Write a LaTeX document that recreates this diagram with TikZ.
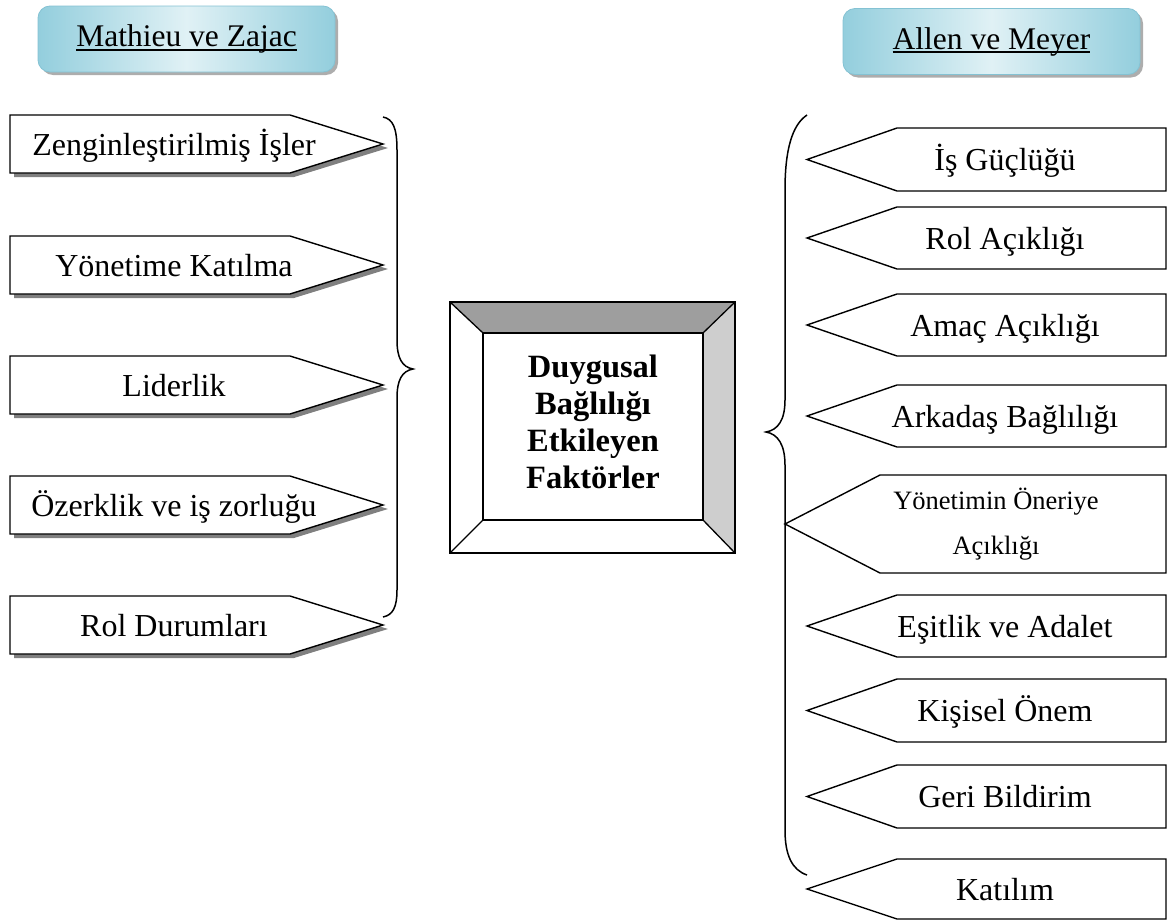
\documentclass[tikz,border=0pt]{standalone}
\usepackage{fontspec}
\setmainfont{Liberation Serif}
\usetikzlibrary{shadows}
\definecolor{hdredge}{HTML}{93CEDD}
\definecolor{hdrmid}{HTML}{E0F1F5}
\definecolor{hdrline}{HTML}{84C2D3}
\definecolor{bevtop}{HTML}{9E9E9E}
\definecolor{bevright}{HTML}{CECECE}
\definecolor{boxshade}{HTML}{808080}
% thick underline for the two header titles
\newcommand\hdrul[1]{\setbox0=\hbox{#1}\rlap{\rule[-4pt]{\wd0}{1.6pt}}\box0}
\begin{document}
\begin{tikzpicture}[x=1pt,y=-1pt,line join=miter,
  edge/.style={draw=black,line width=1.4pt},
  bracepath/.style={draw=black,line width=1.5pt},
  itemtext/.style={font=\fontsize{32}{36}\selectfont,inner sep=0pt,anchor=base},
  header/.style={rounded corners=12pt,minimum width=297pt,minimum height=66pt,
    draw=hdrline,line width=0.8pt,left color=hdredge,right color=hdredge,middle color=hdrmid,
    drop shadow={shadow xshift=3pt,shadow yshift=-3pt,fill=gray!75,opacity=0.85},
    font=\fontsize{31.5}{36}\selectfont},
  ]
\useasboundingbox (0,0) rectangle (1171,921);

% headers
\node[header] (hdrL) at (186.5,39) {\hdrul{Mathieu ve Zajac}};
\node[header] (hdrR) at (991.5,41.5) {\hdrul{Allen ve Meyer}};

% left column: arrow-shaped boxes pointing right, with drop shadow
\foreach \t/\txt/\nm in {115/Zenginleştirilmiş İşler/mzA,236/Yönetime Katılma/mzB,
    356/Liderlik/mzC,476/Özerklik ve iş zorluğu/mzD,596/Rol Durumları/mzE}{
  \fill[boxshade] (14,{\t+4}) -- (294,{\t+4}) -- (388,{\t+33}) -- (294,{\t+62}) -- (14,{\t+62}) -- cycle;
  \path[edge,fill=white] (10,\t) -- (290,\t) -- (383,{\t+29}) -- (290,{\t+58}) -- (10,{\t+58}) -- cycle;
  \node[itemtext] (\nm) at (174,{\t+29+11}) {\txt};
}

% right column: arrow-shaped boxes pointing left
\foreach \t/\b/\txt/\nm in {128/191/İş Güçlüğü/amA,207/269/Rol Açıklığı/amB,
    294/356/Amaç Açıklığı/amC,385/447/Arkadaş Bağlılığı/amD,595/657/Eşitlik ve Adalet/amF,
    679/742/Kişisel Önem/amG,765/828/Geri Bildirim/amH,859/919/Katılım/amI}{
  \path[edge,fill=white] (1166,\t) -- (897,\t) -- (807,{(\t+\b)/2}) -- (897,\b) -- (1166,\b) -- cycle;
  \node[itemtext] (\nm) at (1005,{(\t+\b)/2+11}) {\txt};
}
\path[edge,fill=white] (1166,475) -- (880,475) -- (785,524) -- (880,573) -- (1166,573) -- cycle;
\node[font=\fontsize{26.5}{45}\selectfont,inner sep=0pt,align=center] (amE) at (996,524)
  {Yönetimin Öneriye\\Açıklığı};

% central bevelled frame
\fill[bevtop] (450,302) -- (735,302) -- (703,333) -- (483,333) -- cycle;
\fill[bevright] (735,302) -- (735,553) -- (703,520) -- (703,333) -- cycle;
\draw[line width=1.3pt] (450,302) rectangle (735,553);
\draw[line width=1.3pt] (483,333) rectangle (703,520);
\draw[line width=1.3pt] (450,302) -- (483,333) (735,302) -- (703,333)
  (450,553) -- (483,520) (735,553) -- (703,520);
\node[font=\bfseries\fontsize{32.5}{37}\selectfont,align=center,inner sep=0pt] (core) at (593,422)
  {Duygusal\\Bağlılığı\\Etkileyen\\Faktörler};

% braces grouping each column
\draw[bracepath] (383,117) .. controls (393,119) and (397,128) .. (397,150) -- (397,340)
  .. controls (397,358) and (402,367) .. (413,369)
  .. controls (402,371) and (397,380) .. (397,398) -- (397,590)
  .. controls (397,607) and (393,615) .. (383,617);
\draw[bracepath] (807,115) .. controls (792,125) and (785,150) .. (785,190) -- (785,400)
  .. controls (785,420) and (778,430) .. (766,432)
  .. controls (778,434) and (785,445) .. (785,465) -- (785,830)
  .. controls (785,855) and (792,870) .. (807,875);
\end{tikzpicture}
\end{document}
